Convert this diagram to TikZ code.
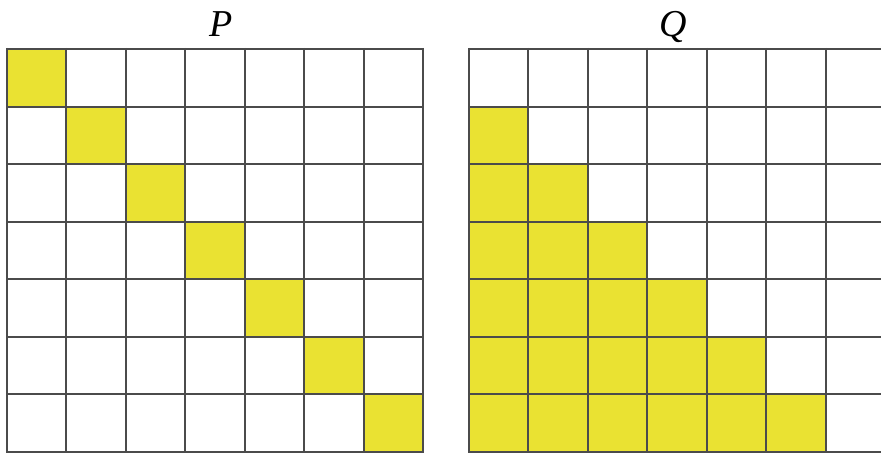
\documentclass[tikz,border=0pt]{standalone}
\usepackage{fontspec}
\setmainfont{Liberation Serif}
\definecolor{cellfill}{RGB}{234,226,50}
\definecolor{gridline}{RGB}{75,75,75}
\tikzset{
  gridrule/.style={draw=gridline, line width=2pt},
  filled/.style={fill=cellfill},
  lbl/.style={font=\fontsize{38}{40}\selectfont\itshape, anchor=base, inner sep=0pt}
}
\begin{document}
\begin{tikzpicture}[x=1pt,y=-1pt]
\useasboundingbox (0,0) rectangle (881,454);
\begin{scope}
\clip (0,0) rectangle (881,454);
% P fills (diagonal)
\foreach \r in {0,...,6}{
  \pgfmathtruncatemacro\xa{7+round(\r*59.43)}
  \pgfmathtruncatemacro\xb{7+round((\r+1)*59.43)}
  \pgfmathtruncatemacro\ya{49+round(\r*57.57)}
  \pgfmathtruncatemacro\yb{49+round((\r+1)*57.57)}
  \path[filled] (\xa,\ya) rectangle (\xb,\yb);
}
% Q fills (strictly lower triangle)
\foreach \r in {1,...,6}{
  \pgfmathtruncatemacro\ya{49+round(\r*57.57)}
  \pgfmathtruncatemacro\yb{49+round((\r+1)*57.57)}
  \pgfmathtruncatemacro\xb{469+round(\r*59.43)}
  \path[filled] (469,\ya) rectangle (\xb,\yb);
}
% grid lines
\foreach \gx in {7,469}{
  \foreach \i in {0,...,7}{
    \pgfmathtruncatemacro\xx{\gx+round(\i*59.43)}
    \pgfmathtruncatemacro\yy{49+round(\i*57.57)}
    \pgfmathtruncatemacro\xs{\gx-1}
    \pgfmathtruncatemacro\xe{\gx+417}
    \path[gridrule] (\xx,48) -- (\xx,453);
    \path[gridrule] (\xs,\yy) -- (\xe,\yy);
  }
}
\end{scope}
\node[lbl] (P) at (221,37) {P};
\node[lbl] (Q) at (673,37) {Q};
\end{tikzpicture}
\end{document}
